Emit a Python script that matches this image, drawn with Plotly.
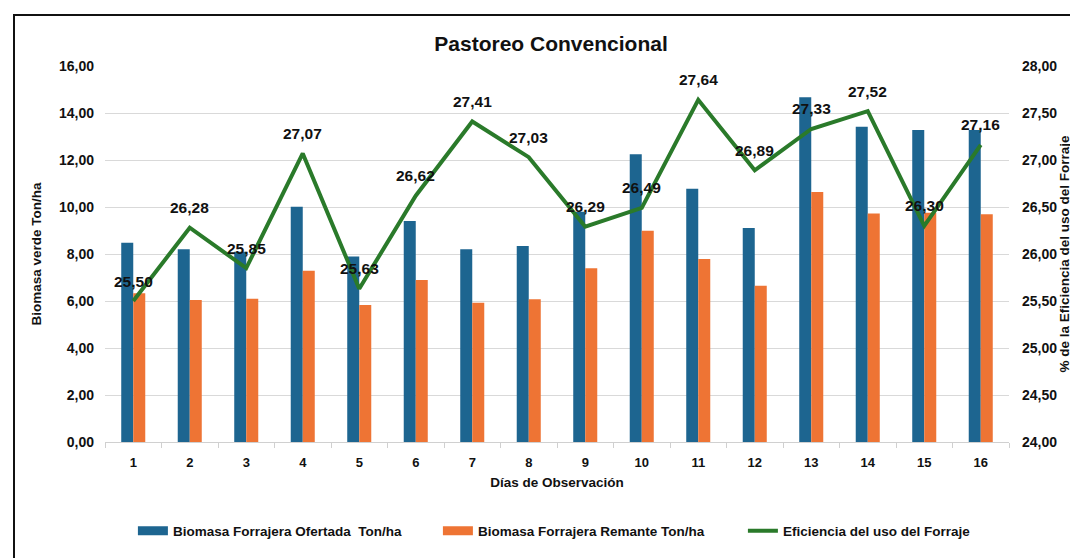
import plotly.graph_objects as go

dias = list(range(1, 17))
ofertada = [8.48, 8.20, 8.10, 10.01, 7.89, 9.40, 8.20, 8.34, 9.80, 12.24, 10.78, 9.11, 14.67, 13.42, 13.28, 13.28]
remante = [6.33, 6.04, 6.10, 7.29, 5.83, 6.89, 5.93, 6.07, 7.39, 8.99, 7.79, 6.65, 10.64, 9.72, 9.76, 9.69]
eficiencia = [25.50, 26.28, 25.85, 27.07, 25.63, 26.62, 27.41, 27.03, 26.29, 26.49, 27.64, 26.89, 27.33, 27.52, 26.30, 27.16]
eficiencia_txt = [f"{v:.2f}".replace(".", ",") for v in eficiencia]

names = ["Biomasa Forrajera Ofertada  Ton/ha", "Biomasa Forrajera Remante Ton/ha", "Eficiencia del uso del Forraje"]
c_blue, c_orange, c_green = "#1d6590", "#ee7434", "#2a7a2a"

fig = go.Figure()
fig.add_trace(go.Bar(x=dias, y=ofertada, name=names[0], showlegend=False,
                     marker=dict(color=c_blue, line=dict(width=0))))
fig.add_trace(go.Bar(x=dias, y=remante, name=names[1], showlegend=False,
                     marker=dict(color=c_orange, line=dict(width=0))))
fig.add_trace(go.Scatter(x=dias, y=eficiencia, name=names[2], showlegend=False,
                         mode="lines", yaxis="y2",
                         line=dict(color=c_green, width=4)))
# data labels of the line
for xv, yv, tv in zip(dias, eficiencia, eficiencia_txt):
    fig.add_annotation(x=xv, y=yv, xref="x", yref="y2", text=tv, showarrow=False,
                       yanchor="middle", xanchor="center", yshift=20,
                       font=dict(family="Liberation Sans, Arial", size=15.5, color="#111111", weight="bold"))
# legend entries
for nm, col, w in zip(names, [c_blue, c_orange, c_green], [9, 9, 4]):
    fig.add_trace(go.Scatter(x=[None], y=[None], mode="lines", name=nm,
                             line=dict(color=col, width=w), showlegend=True))

tickfont = dict(family="Liberation Sans, Arial", size=14, color="#111111", weight="bold")
titlefont = dict(family="Liberation Sans, Arial", size=13.5, color="#111111", weight="bold")
fig.update_layout(
    width=1070, height=550,
    paper_bgcolor="white", plot_bgcolor="white",
    margin=dict(l=97, r=69, t=58, b=116, autoexpand=False),
    separators=",.",
    barmode="group", bargap=0.575, bargroupgap=0,
    title=dict(text="Pastoreo Convencional", x=0.5075, xanchor="center", y=0.9345, yanchor="middle",
               font=dict(family="Liberation Sans Narrow, Liberation Sans", size=21, color="#111111", weight="bold")),
    xaxis=dict(range=[0.5, 16.5], tickvals=dias, ticktext=[str(d) for d in dias],
               tickfont=dict(family="Liberation Sans, Arial", size=13, color="#111111", weight="bold"),
               showgrid=False, showline=True, linecolor="#d0d0d0", linewidth=1,
               ticks="", ticklabelstandoff=8,
               minor=dict(tickvals=[i + 0.5 for i in range(0, 17)], ticks="outside", ticklen=5, tickcolor="#d0d0d0"),
               title=dict(text="Días de Observación", standoff=8, font=titlefont)),
    yaxis=dict(range=[0, 16], dtick=2, tickformat=".2f", tickfont=tickfont, ticklabelstandoff=10,
               showgrid=True, gridcolor="#d9d9d9", gridwidth=1, zeroline=False, ticks="",
               title=dict(text="Biomasa verde Ton/ha", standoff=14, font=titlefont)),
    yaxis2=dict(range=[24, 28], dtick=0.5, tickformat=".2f", tickfont=tickfont, overlaying="y", side="right",
                showgrid=False, zeroline=False, ticklabelstandoff=12,
                title=dict(text="% de la Eficiencia del uso del Forraje", standoff=2, font=titlefont)),
    legend=dict(orientation="h", x=-0.0001, xanchor="left", y=(434 - 523) / 376, yanchor="middle",
                indentation=28,
                font=dict(family="Liberation Sans Narrow, Liberation Sans", size=13.5, color="#111111", weight="bold"),
                itemwidth=30, entrywidth=232, traceorder="normal"),
    shapes=[dict(type="rect", xref="paper", yref="paper",
                 x0=(6 - 97) / 904, x1=(1085 - 97) / 904,
                 y0=(434 - 570) / 376, y1=(434 - 7) / 376,
                 line=dict(color="#111111", width=2), fillcolor="rgba(0,0,0,0)", layer="below")],
)

fig.write_html("out.html")
